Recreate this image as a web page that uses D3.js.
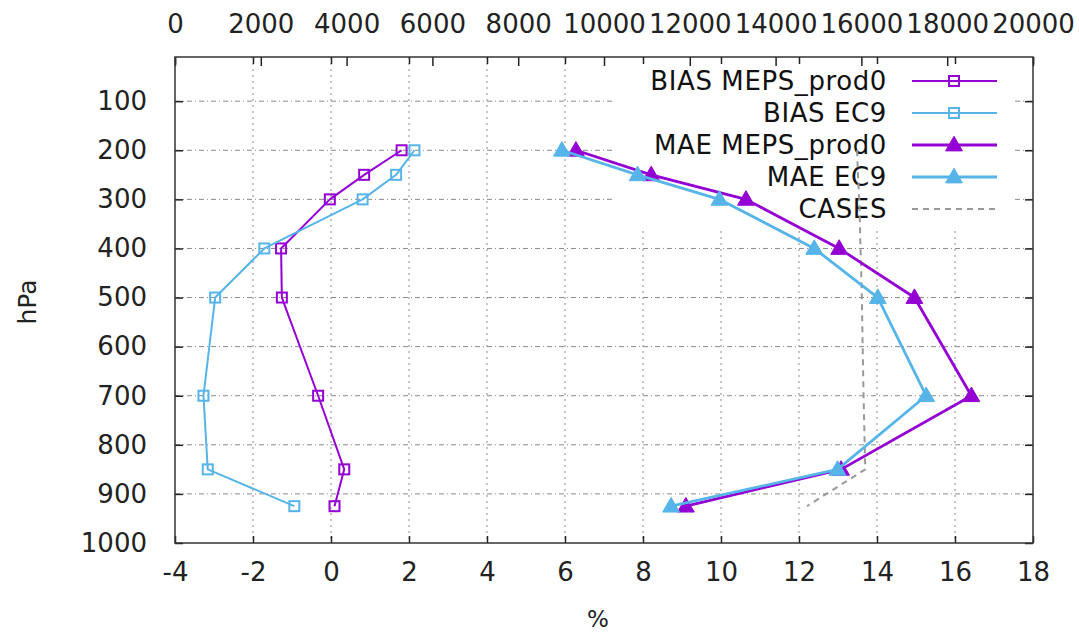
<!DOCTYPE html>
<html>
<head>
<meta charset="utf-8">
<script src="https://cdn.jsdelivr.net/npm/d3@7"></script>
<style>
  html, body { margin: 0; padding: 0; background: #fff; }
  svg { display: block; font-family: "DejaVu Sans", sans-serif; }
</style>
</head>
<body>
<svg id="chart" width="1079" height="632"></svg>
<script>
// ---- data ----
const levels = [200, 250, 300, 400, 500, 700, 850, 925];
const biasMeps = [1.81, 0.85, -0.03, -1.28, -1.26, -0.33, 0.34, 0.09];
const biasEc9  = [2.14, 1.67, 0.81, -1.71, -2.97, -3.27, -3.16, -0.94];
const maeMeps  = [6.28, 8.21, 10.64, 13.03, 14.96, 16.42, 13.08, 9.10];
const maeEc9   = [5.92, 7.86, 9.96, 12.39, 14.02, 15.26, 12.99, 8.72];
const cases    = [15900, 15920, 15950, 15980, 16010, 16050, 16090, 14730];
const xTicks  = [-4, -2, 0, 2, 4, 6, 8, 10, 12, 14, 16, 18];
const x2Ticks = [0, 2000, 4000, 6000, 8000, 10000, 12000, 14000, 16000, 18000, 20000];
const yTicks  = [100, 200, 300, 400, 500, 600, 700, 800, 900, 1000];
const seriesNames = ["BIAS MEPS_prod0", "BIAS EC9", "MAE MEPS_prod0", "MAE EC9", "CASES"];

// ---- layout ----
const L = 175, R = 1033, T = 57, B = 543;
const PURPLE = "#9400d3", BLUE = "#56b4e9", GRAY = "#999";
const svg = d3.select("#chart");

const x  = d3.scaleLinear().domain([-4, 18]).range([L, R]);
const x2 = d3.scaleLinear().domain([0, 20000]).range([L, R]);
const y  = d3.scaleLinear().domain([1000, 10]).range([B, T]);
const fmt = d => String(d);

// grid
const grid = svg.append("g");
grid.selectAll("line.gx").data(xTicks.filter(v => v > -4 && v < 18)).join("line")
  .attr("x1", d => x(d)).attr("x2", d => x(d)).attr("y1", T).attr("y2", B)
  .attr("stroke", "#8a8a8a").attr("stroke-width", 1).attr("stroke-dasharray", "2,4");
grid.selectAll("line.gy").data(yTicks.filter(v => v < 1000)).join("line")
  .attr("x1", L).attr("x2", R).attr("y1", d => y(d)).attr("y2", d => y(d))
  .attr("stroke", "#8a8a8a").attr("stroke-width", 1).attr("stroke-dasharray", "5,3,1,3");

// legend box (opaque)
svg.append("rect").attr("x", 613).attr("y", T + 1).attr("width", 402).attr("height", 170)
  .attr("fill", "#fff");

// legend text
const legTop = 81, legStep = 32;
const leg = svg.append("g");
seriesNames.forEach((n, i) => {
  leg.append("text").attr("x", 887).attr("y", legTop + i * legStep)
    .attr("text-anchor", "end").attr("dominant-baseline", "central")
    .attr("font-size", 26).attr("letter-spacing", 0.6).attr("fill", "#111").text(n);
});

// series definitions
const series = [
  { vals: biasMeps, color: PURPLE, width: 2, marker: "square" },
  { vals: biasEc9,  color: BLUE,   width: 2, marker: "square" },
  { vals: maeMeps,  color: PURPLE, width: 2.8, marker: "tri" },
  { vals: maeEc9,   color: BLUE,   width: 2.8, marker: "tri" }
];

const triPath = s => `M0,${-s*0.62}L${s*0.6},${s*0.42}L${-s*0.6},${s*0.42}Z`;

function drawMarker(g, cx, cy, s) {
  if (s.marker === "square") {
    g.append("rect").attr("x", cx - 5).attr("y", cy - 5).attr("width", 10).attr("height", 10)
      .attr("fill", "none").attr("stroke", s.color).attr("stroke-width", 2);
  } else {
    g.append("path").attr("d", triPath(14)).attr("transform", `translate(${cx},${cy})`)
      .attr("fill", s.color).attr("stroke", s.color).attr("stroke-width", 1);
  }
}

// CASES line (x2 axis)
const caseLine = d3.line().x(d => x2(d)).y((d, i) => y(levels[i]));
svg.append("path").attr("d", caseLine(cases)).attr("fill", "none")
  .attr("stroke", GRAY).attr("stroke-width", 2).attr("stroke-dasharray", "6,5");

// data lines + markers
const dataG = svg.append("g");
series.forEach(s => {
  const line = d3.line().x(d => x(d)).y((d, i) => y(levels[i]));
  dataG.append("path").attr("d", line(s.vals)).attr("fill", "none")
    .attr("stroke", s.color).attr("stroke-width", s.width).attr("stroke-linejoin", "round");
  s.vals.forEach((v, i) => drawMarker(dataG, x(v), y(levels[i]), s));
});

// legend samples
series.forEach((s, i) => {
  const ly = legTop + i * legStep;
  leg.append("line").attr("x1", 912).attr("x2", 997).attr("y1", ly).attr("y2", ly)
    .attr("stroke", s.color).attr("stroke-width", s.width);
  drawMarker(leg, 954, ly, s);
});
{
  const ly = legTop + 4 * legStep;
  leg.append("line").attr("x1", 912).attr("x2", 997).attr("y1", ly).attr("y2", ly)
    .attr("stroke", GRAY).attr("stroke-width", 2).attr("stroke-dasharray", "6,5");
}

// axes
function styleAxis(g) {
  g.select(".domain").remove();
  g.selectAll(".tick line").attr("stroke", "#222").attr("stroke-width", 1.5);
  g.selectAll(".tick text").attr("font-size", 26).attr("fill", "#222")
    .attr("font-family", "DejaVu Sans, sans-serif");
}
svg.append("g").attr("transform", `translate(0,${B})`)
  .call(d3.axisBottom(x).tickValues(xTicks).tickFormat(fmt).tickSizeInner(-7).tickSizeOuter(0).tickPadding(20))
  .call(styleAxis);
svg.append("g").attr("transform", `translate(0,${T})`)
  .call(d3.axisTop(x).tickValues(xTicks).tickFormat("").tickSizeInner(-7).tickSizeOuter(0))
  .call(styleAxis);
svg.append("g").attr("transform", `translate(0,${T})`)
  .call(d3.axisTop(x2).tickValues(x2Ticks).tickFormat(fmt).tickSizeInner(-9).tickSizeOuter(0).tickPadding(24))
  .call(styleAxis);
svg.append("g").attr("transform", `translate(${L},0)`)
  .call(d3.axisLeft(y).tickValues(yTicks).tickFormat(fmt).tickSizeInner(-8).tickSizeOuter(0).tickPadding(28))
  .call(styleAxis);
svg.append("g").attr("transform", `translate(${R},0)`)
  .call(d3.axisRight(y).tickValues(yTicks).tickFormat("").tickSizeInner(-8).tickSizeOuter(0))
  .call(styleAxis);

// frame
svg.append("rect").attr("x", L).attr("y", T).attr("width", R - L).attr("height", B - T)
  .attr("fill", "none").attr("stroke", "#333").attr("stroke-width", 1.5);

// axis titles
svg.append("text").attr("transform", "translate(27,302) rotate(-90)")
  .attr("text-anchor", "middle").attr("dominant-baseline", "central")
  .attr("font-size", 25).attr("fill", "#222").text("hPa");
svg.append("text").attr("x", 598).attr("y", 627)
  .attr("text-anchor", "middle")
  .attr("font-size", 23).attr("fill", "#222").text("%");
</script>
</body>
</html>
